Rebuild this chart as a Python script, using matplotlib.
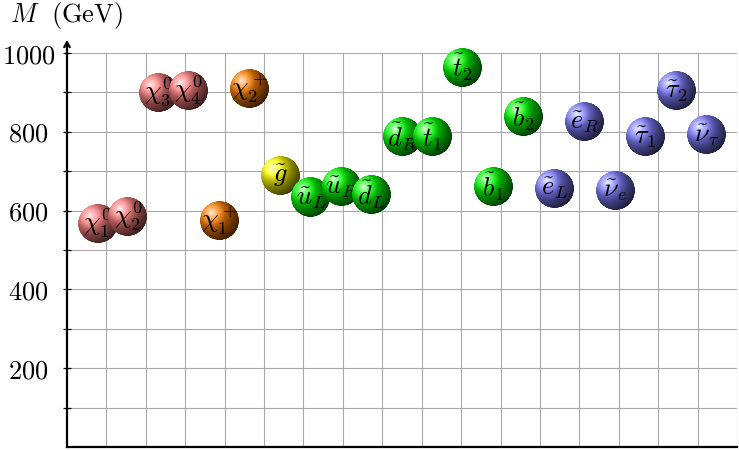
import numpy as np
import matplotlib
matplotlib.use("Agg")
import matplotlib.pyplot as plt
from matplotlib.offsetbox import OffsetImage, AnnotationBbox

plt.rcParams['mathtext.fontset'] = 'cm'
plt.rcParams['font.family'] = 'serif'

# particle spectrum
labels = [r'$\chi_1^0$', r'$\chi_2^0$', r'$\chi_3^0$', r'$\chi_4^0$',
          r'$\chi_1^+$', r'$\chi_2^+$', r'$\tilde{g}$',
          r'$\tilde{u}_L$', r'$\tilde{u}_R$', r'$\tilde{d}_L$', r'$\tilde{d}_R$',
          r'$\tilde{t}_1$', r'$\tilde{t}_2$', r'$\tilde{b}_1$', r'$\tilde{b}_2$',
          r'$\tilde{e}_L$', r'$\tilde{e}_R$', r'$\tilde{\nu}_e$',
          r'$\tilde{\tau}_1$', r'$\tilde{\tau}_2$', r'$\tilde{\nu}_\tau$']
masses = [568, 586, 901, 906, 574, 909, 688,
          632, 660, 640, 787, 787, 964, 660, 838,
          657, 825, 652, 787, 904, 792]
groups = ['neutralino'] * 4 + ['chargino'] * 2 + ['gluino'] + ['squark'] * 8 + ['slepton'] * 6
ball_colors = {'neutralino': (1.0, 0.5, 0.5), 'chargino': (1.0, 0.5, 0.0),
               'gluino': (1.0, 1.0, 0.0), 'squark': (0.0, 1.0, 0.0),
               'slepton': (0.5, 0.5, 1.0)}
xpos = np.arange(1, len(labels) + 1)
yticks_major = [200, 400, 600, 800, 1000]


def ball_image(c, n=160):
    # tikz style "ball" shading: highlight up-left, dark towards lower right
    c = np.array(c)
    w = np.ones(3)
    k = np.zeros(3)
    stops = [0, 9, 18, 25, 50]
    cols = [0.15 * c + 0.85 * w, 0.75 * c + 0.25 * w, 0.7 * c + 0.3 * k,
            0.5 * c + 0.5 * k, k]
    u = np.linspace(-1, 1, n)
    U, V = np.meshgrid(u, -u)
    d = 25 * np.hypot(U + 0.4, V - 0.4)
    img = np.zeros((n, n, 4))
    for ch in range(3):
        img[..., ch] = np.interp(d, stops, [col[ch] for col in cols])
    rho = np.hypot(U, V)
    img[..., 3] = np.clip((1 - rho) * n / 2 + 0.5, 0, 1)
    return img


fig = plt.figure(figsize=(7.39, 4.5), dpi=100)
ax = fig.add_axes([67 / 739, 3 / 450, 670 / 739, 394 / 450])

xmax = 22.0
gstep = xmax / 17
ax.set_xlim(0, xmax)
ax.set_ylim(0, 1000)
for k in range(1, 18):
    ax.axvline(k * gstep, color='#a8a8a8', lw=0.8, zorder=1)
for yy in range(100, 1001, 100):
    ax.axhline(yy, color='#a8a8a8', lw=0.8, zorder=1)

for s in ['top', 'right']:
    ax.spines[s].set_visible(False)
ax.spines['left'].set_linewidth(1.6)
ax.spines['bottom'].set_linewidth(1.6)
ax.spines['left'].set_zorder(50)
ax.spines['bottom'].set_zorder(50)
ax.set_xticks([])
ax.set_yticks(range(100, 1001, 100))
ax.set_yticklabels(['$%d$' % t if t in yticks_major else '' for t in range(100, 1001, 100)],
                   fontsize=19, ha='center')
ax.tick_params(axis='y', direction='inout', length=5.5, width=0.9, pad=25)

ax.annotate('', xy=(0, 1040), xytext=(0, 990), xycoords='data',
            arrowprops=dict(arrowstyle='->,head_length=0.35,head_width=0.2', lw=1.6, color='k'),
            annotation_clip=False, zorder=60)

z = 39 / 160 * 72 / fig.dpi
for i, (x, m, lab, g) in enumerate(zip(xpos, masses, labels, groups)):
    ab = AnnotationBbox(OffsetImage(ball_image(ball_colors[g]), zoom=z), (x, m),
                        frameon=False, pad=0, zorder=3 + 2 * i)
    ax.add_artist(ab)
    ax.text(x, m, lab, ha='center', va='center', fontsize=19, zorder=4 + 2 * i)

fig.text(10 / 739, 1 - 22 / 450, r'$M\ \ (\mathrm{GeV})$', fontsize=19, ha='left', va='baseline')

fig.savefig('out.png', dpi=100)
